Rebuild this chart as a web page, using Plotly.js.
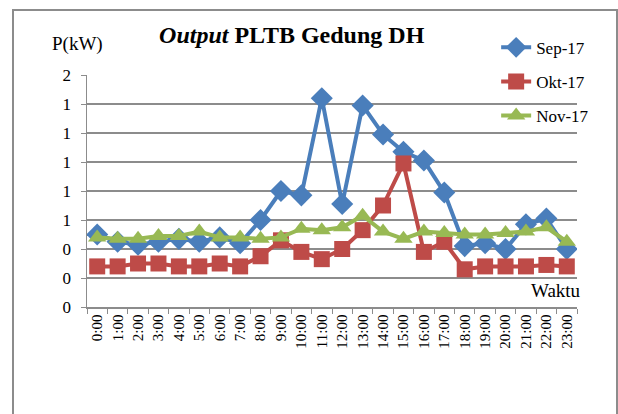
<!DOCTYPE html>
<html>
<head>
<meta charset="utf-8">
<script src="https://cdn.plot.ly/plotly-3.0.1.min.js"></script>
<style>
  html, body { margin: 0; padding: 0; background: #fff; }
  #chart { width: 618px; height: 414px; }
  #frame { position: absolute; left: 12px; top: 9px; width: 602px; height: 420px;
           border: 2px solid #8c8c8c; pointer-events: none; }
</style>
</head>
<body>
<div id="chart"></div>
<div id="frame"></div>
<script>
const hours = ["0:00","1:00","2:00","3:00","4:00","5:00","6:00","7:00","8:00","9:00","10:00","11:00",
               "12:00","13:00","14:00","15:00","16:00","17:00","18:00","19:00","20:00","21:00","22:00","23:00"];
const sep17 = [0.50,0.45,0.43,0.45,0.47,0.45,0.48,0.44,0.60,0.80,0.77,1.44,
               0.71,1.39,1.19,1.07,1.01,0.79,0.42,0.44,0.40,0.57,0.61,0.40];
const okt17 = [0.28,0.28,0.30,0.30,0.28,0.28,0.30,0.28,0.35,0.46,0.38,0.33,
               0.40,0.53,0.70,0.99,0.38,0.45,0.26,0.28,0.28,0.28,0.29,0.28];
const nov17 = [0.48,0.47,0.47,0.49,0.49,0.52,0.48,0.48,0.47,0.48,0.54,0.53,
               0.55,0.63,0.52,0.47,0.52,0.51,0.50,0.50,0.51,0.52,0.55,0.45];
const yTickVals = [0,0.2,0.4,0.6,0.8,1.0,1.2,1.4,1.6];
const yTickText = ["0","0","0","1","1","1","1","1","2"];
const seriesNames = ["Sep-17","Okt-17","Nov-17"];

const serif = "Liberation Serif";
const traces = [
  {x: hours, y: sep17, name: seriesNames[0], legendgroup: "a", mode: "lines+markers",
   line: {color: "#4a7ebb", width: 4}, marker: {symbol: "diamond", size: 17, color: "#4a7ebb"}},
  {x: hours, y: okt17, name: seriesNames[1], legendgroup: "b", mode: "lines+markers",
   line: {color: "#be4b48", width: 4}, marker: {symbol: "square", size: 16, color: "#be4b48"}},
  {x: hours, y: nov17, name: seriesNames[2], legendgroup: "c", mode: "lines+markers",
   line: {color: "#98b954", width: 4}, marker: {symbol: "triangle-up", size: 16, color: "#98b954"}}
];

const layout = {
  width: 618, height: 414,
  margin: {l: 87, r: 41, t: 75, b: 107},
  paper_bgcolor: "#fff", plot_bgcolor: "#fff",
  font: {family: serif, color: "#000"},
  title: {text: "<i>Output</i> PLTB Gedung DH", font: {family: serif, size: 24, color: "#000", weight: "bold"},
          x: 0.472, xanchor: "center", y: 0.917, yanchor: "middle"},
  showlegend: true,
  legend: {x: 0.835, xanchor: "left", y: 1.195, yanchor: "top", bgcolor: "rgba(0,0,0,0)",
           font: {family: serif, size: 17, color: "#000"}, tracegroupgap: 9, itemwidth: 30},
  xaxis: {type: "category", range: [-0.5, 23.5], tickson: "boundaries", showgrid: false, showline: true,
          linecolor: "#8c8c8c", linewidth: 1.5, ticks: "outside", ticklen: 5, tickcolor: "#8c8c8c", tickangle: -90,
          tickfont: {family: serif, size: 15, color: "#000"}, zeroline: false, fixedrange: true},
  yaxis: {range: [0, 1.6], tickvals: yTickVals, ticktext: yTickText, showgrid: true, gridcolor: "#8c8c8c",
          gridwidth: 1.5, showline: true, linecolor: "#8c8c8c", linewidth: 1.5, ticks: "outside", ticklen: 5,
          tickcolor: "#8c8c8c", ticklabelstandoff: 6, tickfont: {family: serif, size: 17, color: "#000"},
          zeroline: false, fixedrange: true},
  annotations: [
    {text: "P(kW)", xref: "paper", yref: "paper", x: -0.02, y: 1.135, xanchor: "center", yanchor: "middle",
     showarrow: false, font: {family: serif, size: 19, color: "#000"}},
    {text: "Waktu", xref: "paper", yref: "paper", x: 0.957, y: 0.073, xanchor: "center", yanchor: "middle",
     showarrow: false, font: {family: serif, size: 19, color: "#000"}}
  ]
};
Plotly.newPlot("chart", traces, layout, {displayModeBar: false, staticPlot: true});
</script>
</body>
</html>
